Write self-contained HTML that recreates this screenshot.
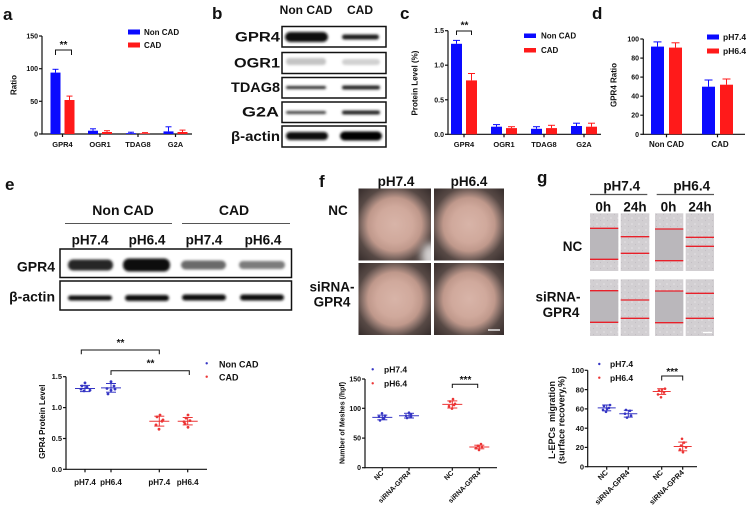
<!DOCTYPE html>
<html><head><meta charset="utf-8"><style>
html,body{margin:0;padding:0;background:#fff;}
svg{display:block;}
text{font-family:"Liberation Sans",Arial,sans-serif;font-weight:bold;fill:#111;}
</style></head><body>
<svg width="746" height="517" viewBox="0 0 746 517" xmlns="http://www.w3.org/2000/svg">
<defs>
<filter id="bl" x="-20%" y="-50%" width="140%" height="200%"><feGaussianBlur stdDeviation="1.4"/></filter>
<filter id="bl2" x="-50%" y="-50%" width="200%" height="200%"><feGaussianBlur stdDeviation="4"/></filter>
<radialGradient id="dish" cx="50%" cy="50%" r="71%">
<stop offset="0%" stop-color="#d8b4a8"/>
<stop offset="35%" stop-color="#d0a99c"/>
<stop offset="52%" stop-color="#bf988b"/>
<stop offset="62%" stop-color="#8f756d"/>
<stop offset="74%" stop-color="#574945"/>
<stop offset="100%" stop-color="#342b2a"/>
</radialGradient>
<clipPath id="cp1"><rect x="358.5" y="188.5" width="72.5" height="72"/></clipPath>
<pattern id="cells" width="7" height="6" patternUnits="userSpaceOnUse">
<rect width="7" height="6" fill="#d2cfd2"/>
<circle cx="2" cy="2" r="0.8" fill="#e6e3e6"/>
<circle cx="5.5" cy="4.5" r="0.6" fill="#c2bec3"/>
</pattern>
</defs>
<rect width="746" height="517" fill="#fff"/>

<!-- ================= Panel a ================= -->
<text x="3" y="20" font-size="17">a</text>
<g stroke="#111" stroke-width="1.2" fill="none">
<line x1="42" y1="36" x2="42" y2="134.5"/>
<line x1="41.5" y1="134" x2="192" y2="134"/>
<line x1="39" y1="36" x2="42" y2="36"/><line x1="39" y1="68.7" x2="42" y2="68.7"/>
<line x1="39" y1="101.3" x2="42" y2="101.3"/><line x1="39" y1="134" x2="42" y2="134"/>
<line x1="62.5" y1="134" x2="62.5" y2="137"/><line x1="100" y1="134" x2="100" y2="137"/>
<line x1="138" y1="134" x2="138" y2="137"/><line x1="175.5" y1="134" x2="175.5" y2="137"/>
</g>
<g font-size="7" text-anchor="end">
<text x="38" y="38.5">150</text><text x="38" y="71.2">100</text><text x="38" y="103.8">50</text><text x="38" y="136.5">0</text>
</g>
<text transform="translate(16.5,85) rotate(-90)" font-size="8" text-anchor="middle">Ratio</text>
<g fill="#0a0aff">
<rect x="50.5" y="72.6" width="10" height="61.4"/><rect x="88" y="130.7" width="10" height="3.3"/>
<rect x="126" y="133.2" width="10" height="0.8"/><rect x="163.5" y="131.4" width="10" height="2.6"/>
</g>
<g fill="#ff1a1a">
<rect x="64.5" y="100" width="10" height="34"/><rect x="102" y="132" width="10" height="2"/>
<rect x="140" y="133.3" width="10" height="0.7"/><rect x="177.5" y="132" width="10" height="2"/>
</g>
<g stroke="#0a0aff" stroke-width="1">
<line x1="55.5" y1="72.6" x2="55.5" y2="69.3"/><line x1="52.5" y1="69.3" x2="58.5" y2="69.3"/>
<line x1="93" y1="130.7" x2="93" y2="128.8"/><line x1="90" y1="128.8" x2="96" y2="128.8"/>
<line x1="131" y1="133.2" x2="131" y2="132.2"/><line x1="128" y1="132.2" x2="134" y2="132.2"/>
<line x1="168.5" y1="131.4" x2="168.5" y2="126.8"/><line x1="165.5" y1="126.8" x2="171.5" y2="126.8"/>
</g>
<g stroke="#ff1a1a" stroke-width="1">
<line x1="69.5" y1="100" x2="69.5" y2="96.1"/><line x1="66.5" y1="96.1" x2="72.5" y2="96.1"/>
<line x1="107" y1="132" x2="107" y2="130.7"/><line x1="104" y1="130.7" x2="110" y2="130.7"/>
<line x1="145" y1="133.3" x2="145" y2="132.6"/><line x1="142" y1="132.6" x2="148" y2="132.6"/>
<line x1="182.5" y1="132" x2="182.5" y2="130.1"/><line x1="179.5" y1="130.1" x2="185.5" y2="130.1"/>
</g>
<path d="M55.5 55 V50 H71.5 V55" stroke="#111" stroke-width="1" fill="none"/>
<text x="63.5" y="48" font-size="10" text-anchor="middle">**</text>
<g font-size="7.5" text-anchor="middle">
<text x="62.5" y="147">GPR4</text><text x="100" y="147">OGR1</text><text x="138" y="147">TDAG8</text><text x="175.5" y="147">G2A</text>
</g>
<rect x="128" y="29.5" width="12" height="5" fill="#0a0aff"/>
<rect x="128" y="42.5" width="12" height="5" fill="#ff1a1a"/>
<text x="144" y="35" font-size="8">Non CAD</text>
<text x="144" y="48" font-size="8">CAD</text>

<!-- ================= Panel b ================= -->
<text x="212" y="19" font-size="17">b</text>
<text x="306" y="14" font-size="12" text-anchor="middle">Non CAD</text>
<text x="360" y="14" font-size="12" text-anchor="middle">CAD</text>
<g font-size="13.5" text-anchor="end">
<text x="280" y="41.5" textLength="45" lengthAdjust="spacingAndGlyphs">GPR4</text>
<text x="280" y="67.5" textLength="46" lengthAdjust="spacingAndGlyphs">OGR1</text>
<text x="280" y="92" textLength="49" lengthAdjust="spacingAndGlyphs">TDAG8</text>
<text x="279" y="116.5" textLength="37" lengthAdjust="spacingAndGlyphs">G2A</text>
<text x="280" y="141" textLength="49" lengthAdjust="spacingAndGlyphs">β-actin</text>
</g>
<g filter="url(#bl)">
<rect x="285" y="32" width="43" height="10" rx="5" fill="#0d0d0d"/>
<rect x="342" y="34.5" width="37" height="5" rx="2.5" fill="#1a1a1a"/>
<rect x="286" y="58" width="40" height="7" rx="3" fill="#c4c4c4"/>
<rect x="342" y="59" width="38" height="6" rx="3" fill="#d0d0d0"/>
<rect x="286" y="86" width="40" height="3" rx="1.5" fill="#2a2a2a"/>
<rect x="342" y="85.5" width="38" height="4" rx="2" fill="#222"/>
<rect x="286" y="111" width="40" height="3" rx="1.5" fill="#444"/>
<rect x="342" y="110.5" width="38" height="4" rx="2" fill="#222"/>
<rect x="286" y="132" width="42" height="8" rx="4" fill="#0a0a0a"/>
<rect x="340" y="131.5" width="42" height="9" rx="4.5" fill="#050505"/>
</g>
<g stroke="#111" stroke-width="1.5" fill="none">
<rect x="282" y="26.5" width="104" height="20.5"/>
<rect x="282" y="52.5" width="104" height="21"/>
<rect x="282" y="77.5" width="104" height="20.5"/>
<rect x="282" y="102" width="104" height="20.5"/>
<rect x="282" y="126" width="104" height="21"/>
</g>

<!-- ================= Panel c ================= -->
<text x="400" y="19" font-size="17">c</text>
<g stroke="#111" stroke-width="1.2" fill="none">
<line x1="448" y1="30.7" x2="448" y2="134.8"/>
<line x1="447.5" y1="134.3" x2="601" y2="134.3"/>
<line x1="445" y1="30.7" x2="448" y2="30.7"/><line x1="445" y1="65.2" x2="448" y2="65.2"/>
<line x1="445" y1="99.8" x2="448" y2="99.8"/><line x1="445" y1="134.3" x2="448" y2="134.3"/>
<line x1="464" y1="134.3" x2="464" y2="137.3"/><line x1="504" y1="134.3" x2="504" y2="137.3"/>
<line x1="544" y1="134.3" x2="544" y2="137.3"/><line x1="584" y1="134.3" x2="584" y2="137.3"/>
</g>
<g font-size="7" text-anchor="end">
<text x="444" y="33.2">1.5</text><text x="444" y="67.7">1.0</text><text x="444" y="102.3">0.5</text><text x="444" y="136.8">0.0</text>
</g>
<text transform="translate(417.5,83) rotate(-90)" font-size="8" text-anchor="middle">Protein Level (%)</text>
<g fill="#0a0aff">
<rect x="451" y="43.8" width="11" height="90.5"/><rect x="491" y="126.7" width="11" height="7.6"/>
<rect x="531" y="128.8" width="11" height="5.5"/><rect x="571" y="126" width="11" height="8.3"/>
</g>
<g fill="#ff1a1a">
<rect x="466" y="80.4" width="11" height="53.9"/><rect x="506" y="128.1" width="11" height="6.2"/>
<rect x="546" y="128.1" width="11" height="6.2"/><rect x="586" y="126.7" width="11" height="7.6"/>
</g>
<g stroke="#0a0aff" stroke-width="1">
<line x1="456.5" y1="43.8" x2="456.5" y2="40.4"/><line x1="453" y1="40.4" x2="460" y2="40.4"/>
<line x1="496.5" y1="126.7" x2="496.5" y2="124.6"/><line x1="493" y1="124.6" x2="500" y2="124.6"/>
<line x1="536.5" y1="128.8" x2="536.5" y2="126.7"/><line x1="533" y1="126.7" x2="540" y2="126.7"/>
<line x1="576.5" y1="126" x2="576.5" y2="123.2"/><line x1="573" y1="123.2" x2="580" y2="123.2"/>
</g>
<g stroke="#ff1a1a" stroke-width="1">
<line x1="471.5" y1="80.4" x2="471.5" y2="73.5"/><line x1="468" y1="73.5" x2="475" y2="73.5"/>
<line x1="511.5" y1="128.1" x2="511.5" y2="126.7"/><line x1="508" y1="126.7" x2="515" y2="126.7"/>
<line x1="551.5" y1="128.1" x2="551.5" y2="125.3"/><line x1="548" y1="125.3" x2="555" y2="125.3"/>
<line x1="591.5" y1="126.7" x2="591.5" y2="123.2"/><line x1="588" y1="123.2" x2="595" y2="123.2"/>
</g>
<path d="M456.5 35 V31 H471.5 V35" stroke="#111" stroke-width="1" fill="none"/>
<text x="464.5" y="28.5" font-size="10" text-anchor="middle">**</text>
<g font-size="7.5" text-anchor="middle">
<text x="464" y="147">GPR4</text><text x="504" y="147">OGR1</text><text x="544" y="147">TDAG8</text><text x="584" y="147">G2A</text>
</g>
<rect x="524" y="33.5" width="12" height="4.5" fill="#0a0aff"/>
<rect x="524" y="48" width="12" height="4.5" fill="#ff1a1a"/>
<text x="541" y="38.5" font-size="8">Non CAD</text>
<text x="541" y="53" font-size="8">CAD</text>

<!-- ================= Panel d ================= -->
<text x="592" y="19" font-size="17">d</text>
<g stroke="#111" stroke-width="1.2" fill="none">
<line x1="643.3" y1="39" x2="643.3" y2="134.8"/>
<line x1="642.8" y1="134.3" x2="745" y2="134.3"/>
<line x1="640.3" y1="39" x2="643.3" y2="39"/><line x1="640.3" y1="58.1" x2="643.3" y2="58.1"/>
<line x1="640.3" y1="77.1" x2="643.3" y2="77.1"/><line x1="640.3" y1="96.2" x2="643.3" y2="96.2"/>
<line x1="640.3" y1="115.2" x2="643.3" y2="115.2"/><line x1="640.3" y1="134.3" x2="643.3" y2="134.3"/>
<line x1="666.5" y1="134.3" x2="666.5" y2="137.3"/><line x1="717.5" y1="134.3" x2="717.5" y2="137.3"/>
</g>
<g font-size="7" text-anchor="end">
<text x="639" y="41.5">100</text><text x="639" y="60.6">80</text><text x="639" y="79.6">60</text>
<text x="639" y="98.7">40</text><text x="639" y="117.7">20</text><text x="639" y="136.8">0</text>
</g>
<text transform="translate(616.5,85) rotate(-90)" font-size="8" text-anchor="middle">GPR4 Ratio</text>
<rect x="651" y="46.6" width="13" height="87.7" fill="#0a0aff"/>
<rect x="669" y="47.6" width="13" height="86.7" fill="#ff1a1a"/>
<rect x="702" y="86.7" width="13" height="47.6" fill="#0a0aff"/>
<rect x="720" y="84.7" width="13" height="49.6" fill="#ff1a1a"/>
<g stroke="#0a0aff" stroke-width="1">
<line x1="657.5" y1="46.6" x2="657.5" y2="41.9"/><line x1="653.5" y1="41.9" x2="661.5" y2="41.9"/>
<line x1="708.5" y1="86.7" x2="708.5" y2="80"/><line x1="704.5" y1="80" x2="712.5" y2="80"/>
</g>
<g stroke="#ff1a1a" stroke-width="1">
<line x1="675.5" y1="47.6" x2="675.5" y2="42.8"/><line x1="671.5" y1="42.8" x2="679.5" y2="42.8"/>
<line x1="726.5" y1="84.7" x2="726.5" y2="79"/><line x1="722.5" y1="79" x2="730.5" y2="79"/>
</g>
<g font-size="8" text-anchor="middle">
<text x="666.5" y="147">Non CAD</text><text x="720" y="147">CAD</text>
</g>
<rect x="707" y="34.5" width="12" height="5" fill="#0a0aff"/>
<rect x="707" y="48.5" width="12" height="5" fill="#ff1a1a"/>
<text x="723" y="40" font-size="8.5">pH7.4</text>
<text x="723" y="54" font-size="8.5">pH6.4</text>

<!-- ================= Panel e (blot) ================= -->
<text x="5" y="190" font-size="17">e</text>
<text x="123" y="215" font-size="14" text-anchor="middle">Non CAD</text>
<text x="234" y="215" font-size="14" text-anchor="middle">CAD</text>
<line x1="65" y1="223.5" x2="172" y2="223.5" stroke="#555" stroke-width="1"/>
<line x1="182" y1="223.5" x2="290" y2="223.5" stroke="#555" stroke-width="1"/>
<g font-size="13.5" text-anchor="middle">
<text x="90" y="244.5">pH7.4</text><text x="147" y="244.5">pH6.4</text>
<text x="204" y="244.5">pH7.4</text><text x="263" y="244.5">pH6.4</text>
</g>
<g font-size="14" text-anchor="end">
<text x="55" y="271.5">GPR4</text>
<text x="55" y="301.5">β-actin</text>
</g>
<g filter="url(#bl)">
<rect x="68" y="259.5" width="45" height="11" rx="5" fill="#262626"/>
<rect x="123" y="258.5" width="47" height="13" rx="6" fill="#0e0e0e"/>
<rect x="181" y="260.5" width="45" height="9" rx="4.5" fill="#6a6a6a"/>
<rect x="239" y="261" width="46" height="8" rx="4" fill="#7c7c7c"/>
<rect x="68" y="295.5" width="44" height="5" rx="2.5" fill="#111"/>
<rect x="125" y="295" width="44" height="6" rx="3" fill="#111"/>
<rect x="182" y="294.5" width="44" height="6" rx="3" fill="#111"/>
<rect x="240" y="294.5" width="44" height="6" rx="3" fill="#111"/>
</g>
<g stroke="#111" stroke-width="1.5" fill="none">
<rect x="60" y="249" width="231.5" height="28.5"/>
<rect x="60" y="281" width="231.5" height="29"/>
</g>

<!-- ================= Panel e (dot plot) ================= -->
<g stroke="#111" stroke-width="1.2" fill="none">
<line x1="66" y1="376.7" x2="66" y2="469.8"/>
<line x1="65.5" y1="469.3" x2="207" y2="469.3"/>
<line x1="63" y1="376.7" x2="66" y2="376.7"/><line x1="63" y1="407.6" x2="66" y2="407.6"/>
<line x1="63" y1="438.5" x2="66" y2="438.5"/><line x1="63" y1="469.3" x2="66" y2="469.3"/>
<line x1="85" y1="469.3" x2="85" y2="472.3"/><line x1="111" y1="469.3" x2="111" y2="472.3"/>
<line x1="159.3" y1="469.3" x2="159.3" y2="472.3"/><line x1="187.7" y1="469.3" x2="187.7" y2="472.3"/>
</g>
<g font-size="7.5" text-anchor="end">
<text x="62" y="379.2">1.5</text><text x="62" y="410.1">1.0</text><text x="62" y="441">0.5</text><text x="62" y="471.8">0.0</text>
</g>
<text transform="translate(45,421.7) rotate(-90)" font-size="8" text-anchor="middle">GPR4 Protein Level</text>
<g font-size="8" text-anchor="middle">
<text x="85" y="485">pH7.4</text><text x="111" y="485">pH6.4</text><text x="159.3" y="485">pH7.4</text><text x="187.7" y="485">pH6.4</text>
</g>
<g stroke="#3535c4" stroke-width="1" fill="none">
<line x1="75" y1="388.5" x2="95" y2="388.5"/><line x1="85" y1="385.4" x2="85" y2="391.6"/>
<line x1="80" y1="385.4" x2="90" y2="385.4"/><line x1="80" y1="391.6" x2="90" y2="391.6"/>
<line x1="101" y1="387.9" x2="121" y2="387.9"/><line x1="111" y1="383.5" x2="111" y2="392.2"/>
<line x1="106" y1="383.5" x2="116" y2="383.5"/><line x1="106" y1="392.2" x2="116" y2="392.2"/>
</g>
<g fill="#3535c4">
<circle cx="81" cy="389.1" r="1.4"/><circle cx="84" cy="390.9" r="1.4"/><circle cx="87" cy="387.2" r="1.4"/>
<circle cx="85" cy="382.9" r="1.4"/><circle cx="90" cy="390.3" r="1.4"/><circle cx="82" cy="386" r="1.4"/>
<circle cx="108" cy="394" r="1.4"/><circle cx="111" cy="390.3" r="1.4"/><circle cx="114" cy="386" r="1.4"/>
<circle cx="111" cy="381.7" r="1.4"/><circle cx="107" cy="388.5" r="1.4"/><circle cx="115" cy="389.1" r="1.4"/>
</g>
<g stroke="#ec3535" stroke-width="1" fill="none">
<line x1="149.3" y1="421.2" x2="169.3" y2="421.2"/><line x1="159.3" y1="416.2" x2="159.3" y2="426.1"/>
<line x1="154.3" y1="416.2" x2="164.3" y2="416.2"/><line x1="154.3" y1="426.1" x2="164.3" y2="426.1"/>
<line x1="177.7" y1="421.2" x2="197.7" y2="421.2"/><line x1="187.7" y1="417.5" x2="187.7" y2="424.9"/>
<line x1="182.7" y1="417.5" x2="192.7" y2="417.5"/><line x1="182.7" y1="424.9" x2="192.7" y2="424.9"/>
</g>
<g fill="#ec3535">
<circle cx="159" cy="429.2" r="1.4"/><circle cx="156" cy="424.9" r="1.4"/><circle cx="162" cy="421.2" r="1.4"/>
<circle cx="157" cy="416.9" r="1.4"/><circle cx="160" cy="415" r="1.4"/><circle cx="163" cy="419.9" r="1.4"/>
<circle cx="188" cy="427.3" r="1.4"/><circle cx="185" cy="423.6" r="1.4"/><circle cx="190" cy="420.6" r="1.4"/>
<circle cx="186" cy="418.1" r="1.4"/><circle cx="188" cy="415" r="1.4"/><circle cx="184" cy="421.8" r="1.4"/>
</g>
<path d="M81.3 354.3 V350 H159.3 V354.3" stroke="#111" stroke-width="1" fill="none"/>
<text x="120.5" y="346" font-size="10" text-anchor="middle">**</text>
<path d="M111 375 V370.7 H189.3 V375" stroke="#111" stroke-width="1" fill="none"/>
<text x="150.5" y="366.5" font-size="10" text-anchor="middle">**</text>
<circle cx="206.7" cy="363.3" r="1.2" fill="#3535c4"/>
<circle cx="206.7" cy="376.7" r="1.2" fill="#ec3535"/>
<text x="219" y="367.5" font-size="9">Non CAD</text>
<text x="219" y="380.5" font-size="9">CAD</text>

<!-- ================= Panel f ================= -->
<text x="319" y="187" font-size="17">f</text>
<text x="396" y="186" font-size="13.5" text-anchor="middle">pH7.4</text>
<text x="469" y="186" font-size="13.5" text-anchor="middle">pH6.4</text>
<text x="338" y="215" font-size="13.5" text-anchor="middle">NC</text>
<text x="332" y="291.5" font-size="13.5" text-anchor="middle">siRNA-</text>
<text x="332" y="306.5" font-size="13.5" text-anchor="middle">GPR4</text>
<rect x="358.5" y="188.5" width="72.5" height="72" fill="url(#dish)"/>
<rect x="434" y="188.5" width="70" height="72" fill="url(#dish)"/>
<rect x="358.5" y="263" width="72.5" height="72" fill="url(#dish)"/>
<rect x="434" y="263" width="70" height="72" fill="url(#dish)"/>
<g clip-path="url(#cp1)">
<ellipse cx="430" cy="256" rx="9" ry="13" fill="#e4e2e2" filter="url(#bl2)" opacity="0.9"/>
</g>
<line x1="488" y1="330" x2="500" y2="330" stroke="#fff" stroke-width="1.3"/>
<!-- f chart -->
<g stroke="#111" stroke-width="1.2" fill="none">
<line x1="365" y1="379" x2="365" y2="468.2"/>
<line x1="364.5" y1="467.7" x2="497" y2="467.7"/>
<line x1="362" y1="379" x2="365" y2="379"/><line x1="362" y1="408.3" x2="365" y2="408.3"/>
<line x1="362" y1="438.1" x2="365" y2="438.1"/><line x1="362" y1="467.7" x2="365" y2="467.7"/>
<line x1="382.3" y1="467.7" x2="382.3" y2="470.7"/><line x1="409" y1="467.7" x2="409" y2="470.7"/>
<line x1="452.3" y1="467.7" x2="452.3" y2="470.7"/><line x1="479.3" y1="467.7" x2="479.3" y2="470.7"/>
</g>
<g font-size="7" text-anchor="end">
<text x="361" y="381.5">150</text><text x="361" y="410.8">100</text><text x="361" y="440.6">50</text><text x="361" y="470.2">0</text>
</g>
<text transform="translate(344.5,423) rotate(-90)" font-size="7" text-anchor="middle">Number of Meshes (/hpf)</text>
<g font-size="7" text-anchor="end">
<text transform="translate(384,473.5) rotate(-45)">NC</text>
<text transform="translate(411,473.5) rotate(-45)">siRNA-GPR4</text>
<text transform="translate(454,473.5) rotate(-45)">NC</text>
<text transform="translate(481,473.5) rotate(-45)">siRNA-GPR4</text>
</g>
<g stroke="#3535c4" stroke-width="1" fill="none">
<line x1="372.3" y1="417.4" x2="392.3" y2="417.4"/><line x1="382.3" y1="415.1" x2="382.3" y2="419.8"/>
<line x1="377.3" y1="415.1" x2="387.3" y2="415.1"/><line x1="377.3" y1="419.8" x2="387.3" y2="419.8"/>
<line x1="399" y1="415.7" x2="419" y2="415.7"/><line x1="409" y1="413.3" x2="409" y2="418"/>
<line x1="404" y1="413.3" x2="414" y2="413.3"/><line x1="404" y1="418" x2="414" y2="418"/>
</g>
<g fill="#3535c4">
<circle cx="380" cy="420.4" r="1.3"/><circle cx="384" cy="418.6" r="1.3"/><circle cx="379" cy="416.8" r="1.3"/>
<circle cx="385" cy="415.7" r="1.3"/><circle cx="382" cy="413.3" r="1.3"/><circle cx="383" cy="418" r="1.3"/>
<circle cx="407" cy="418" r="1.3"/><circle cx="411" cy="416.8" r="1.3"/><circle cx="406" cy="415.7" r="1.3"/>
<circle cx="411" cy="414.5" r="1.3"/><circle cx="409" cy="412.7" r="1.3"/>
</g>
<g stroke="#ec3535" stroke-width="1" fill="none">
<line x1="442.3" y1="404.4" x2="462.3" y2="404.4"/><line x1="452.3" y1="400.9" x2="452.3" y2="408"/>
<line x1="447.3" y1="400.9" x2="457.3" y2="400.9"/><line x1="447.3" y1="408" x2="457.3" y2="408"/>
<line x1="469.3" y1="447" x2="489.3" y2="447"/><line x1="479.3" y1="445.2" x2="479.3" y2="448.8"/>
<line x1="474.3" y1="445.2" x2="484.3" y2="445.2"/><line x1="474.3" y1="448.8" x2="484.3" y2="448.8"/>
</g>
<g fill="#ec3535">
<circle cx="452" cy="408.6" r="1.3"/><circle cx="449" cy="406.2" r="1.3"/><circle cx="455" cy="403.8" r="1.3"/>
<circle cx="450" cy="401.5" r="1.3"/><circle cx="453" cy="399.1" r="1.3"/><circle cx="454" cy="405" r="1.3"/>
<circle cx="479" cy="450" r="1.3"/><circle cx="476" cy="448.2" r="1.3"/><circle cx="482" cy="447" r="1.3"/>
<circle cx="478" cy="445.8" r="1.3"/><circle cx="481" cy="444" r="1.3"/>
</g>
<path d="M452.3 388 V384.3 H477.7 V388" stroke="#111" stroke-width="1" fill="none"/>
<text x="465.5" y="383" font-size="10" text-anchor="middle">***</text>
<circle cx="372.7" cy="369.3" r="1.2" fill="#3535c4"/>
<circle cx="372.7" cy="383.3" r="1.2" fill="#ec3535"/>
<text x="384" y="372.5" font-size="8.5">pH7.4</text>
<text x="384" y="386.5" font-size="8.5">pH6.4</text>

<!-- ================= Panel g ================= -->
<text x="537" y="183" font-size="17">g</text>
<text x="621.7" y="190.5" font-size="13.5" text-anchor="middle">pH7.4</text>
<text x="691.7" y="190.5" font-size="13.5" text-anchor="middle">pH6.4</text>
<line x1="590" y1="194.5" x2="647.3" y2="194.5" stroke="#555" stroke-width="1.2"/>
<line x1="656.7" y1="194.5" x2="714" y2="194.5" stroke="#555" stroke-width="1.2"/>
<g font-size="13.5" text-anchor="middle">
<text x="603.3" y="211.5">0h</text><text x="635" y="211.5">24h</text>
<text x="668.5" y="211.5">0h</text><text x="700" y="211.5">24h</text>
</g>
<text x="572.5" y="251" font-size="13.5" text-anchor="middle">NC</text>
<text x="558" y="301.5" font-size="13.5" text-anchor="middle">siRNA-</text>
<text x="561" y="317" font-size="13.5" text-anchor="middle">GPR4</text>
<!-- images -->
<rect x="590" y="213.3" width="28.3" height="57.7" fill="url(#cells)"/>
<rect x="620.7" y="213.3" width="28.6" height="57.7" fill="url(#cells)"/>
<rect x="655" y="213.3" width="28.3" height="57.7" fill="url(#cells)"/>
<rect x="685.7" y="213.3" width="28.3" height="57.7" fill="url(#cells)"/>
<rect x="590" y="279.3" width="28.3" height="56.7" fill="url(#cells)"/>
<rect x="620.7" y="279.3" width="28.6" height="56.7" fill="url(#cells)"/>
<rect x="655" y="279.3" width="28.3" height="56.7" fill="url(#cells)"/>
<rect x="685.7" y="279.3" width="28.3" height="56.7" fill="url(#cells)"/>
<g fill="#bab7bb">
<rect x="590" y="228.3" width="28.3" height="31"/>
<rect x="655" y="229" width="28.3" height="31.7"/>
<rect x="590" y="290.7" width="28.3" height="31.6"/>
<rect x="655" y="291" width="28.3" height="31.7"/>
</g>
<g stroke="#e8202a" stroke-width="1.3">
<line x1="590" y1="228.3" x2="618.3" y2="228.3"/><line x1="590" y1="259.3" x2="618.3" y2="259.3"/>
<line x1="620.7" y1="236.7" x2="649.3" y2="236.7"/><line x1="620.7" y1="253.3" x2="649.3" y2="253.3"/>
<line x1="655" y1="229" x2="683.3" y2="229"/><line x1="655" y1="260.7" x2="683.3" y2="260.7"/>
<line x1="685.7" y1="237.3" x2="714" y2="237.3"/><line x1="685.7" y1="246.3" x2="714" y2="246.3"/>
<line x1="590" y1="290.7" x2="618.3" y2="290.7"/><line x1="590" y1="322.3" x2="618.3" y2="322.3"/>
<line x1="620.7" y1="300" x2="649.3" y2="300"/><line x1="620.7" y1="318.3" x2="649.3" y2="318.3"/>
<line x1="655" y1="291" x2="683.3" y2="291"/><line x1="655" y1="322.7" x2="683.3" y2="322.7"/>
<line x1="685.7" y1="293.3" x2="714" y2="293.3"/><line x1="685.7" y1="318.3" x2="714" y2="318.3"/>
</g>
<line x1="703" y1="332.5" x2="712" y2="332.5" stroke="#fff" stroke-width="1.3"/>
<!-- g chart -->
<g stroke="#111" stroke-width="1.2" fill="none">
<line x1="587.7" y1="370.3" x2="587.7" y2="467.2"/>
<line x1="587.2" y1="466.7" x2="697" y2="466.7"/>
<line x1="584.7" y1="370.3" x2="587.7" y2="370.3"/><line x1="584.7" y1="389.6" x2="587.7" y2="389.6"/>
<line x1="584.7" y1="408.9" x2="587.7" y2="408.9"/><line x1="584.7" y1="428.2" x2="587.7" y2="428.2"/>
<line x1="584.7" y1="447.4" x2="587.7" y2="447.4"/><line x1="584.7" y1="466.7" x2="587.7" y2="466.7"/>
<line x1="606.7" y1="466.7" x2="606.7" y2="469.7"/><line x1="628.3" y1="466.7" x2="628.3" y2="469.7"/>
<line x1="661.7" y1="466.7" x2="661.7" y2="469.7"/><line x1="682.7" y1="466.7" x2="682.7" y2="469.7"/>
</g>
<g font-size="7.5" text-anchor="end">
<text x="584" y="373">100</text><text x="584" y="392.3">80</text><text x="584" y="411.6">60</text>
<text x="584" y="430.9">40</text><text x="584" y="450.1">20</text><text x="584" y="469.4">0</text>
</g>
<text transform="translate(555,420) rotate(-90)" font-size="9" text-anchor="middle" xml:space="preserve">L-EPCs  migration</text>
<text transform="translate(564.5,420) rotate(-90)" font-size="9" text-anchor="middle">(surface recovery,%)</text>
<g font-size="7.5" text-anchor="end">
<text transform="translate(608.5,473) rotate(-45)">NC</text>
<text transform="translate(630,473) rotate(-45)">siRNA-GPR4</text>
<text transform="translate(663.5,473) rotate(-45)">NC</text>
<text transform="translate(684.5,473) rotate(-45)">siRNA-GPR4</text>
</g>
<g stroke="#3535c4" stroke-width="1" fill="none">
<line x1="597.7" y1="407.9" x2="615.7" y2="407.9"/><line x1="606.7" y1="405" x2="606.7" y2="410.8"/>
<line x1="602.2" y1="405" x2="611.2" y2="405"/><line x1="602.2" y1="410.8" x2="611.2" y2="410.8"/>
<line x1="619.3" y1="413.7" x2="637.3" y2="413.7"/><line x1="628.3" y1="410.3" x2="628.3" y2="417.1"/>
<line x1="623.8" y1="410.3" x2="632.8" y2="410.3"/><line x1="623.8" y1="417.1" x2="632.8" y2="417.1"/>
</g>
<g fill="#3535c4">
<circle cx="606" cy="411.8" r="1.3"/><circle cx="603" cy="409.9" r="1.3"/><circle cx="609" cy="407.9" r="1.3"/>
<circle cx="604" cy="406" r="1.3"/><circle cx="610" cy="405" r="1.3"/><circle cx="607" cy="408.9" r="1.3"/>
<circle cx="627" cy="417.6" r="1.3"/><circle cx="631" cy="415.6" r="1.3"/><circle cx="625" cy="413.7" r="1.3"/>
<circle cx="630" cy="410.8" r="1.3"/><circle cx="626" cy="409.9" r="1.3"/>
</g>
<g stroke="#ec3535" stroke-width="1" fill="none">
<line x1="652.7" y1="391.5" x2="670.7" y2="391.5"/><line x1="661.7" y1="388.7" x2="661.7" y2="394.4"/>
<line x1="657.2" y1="388.7" x2="666.2" y2="388.7"/><line x1="657.2" y1="394.4" x2="666.2" y2="394.4"/>
<line x1="673.7" y1="446.5" x2="691.7" y2="446.5"/><line x1="682.7" y1="442.1" x2="682.7" y2="450.8"/>
<line x1="678.2" y1="442.1" x2="687.2" y2="442.1"/><line x1="678.2" y1="450.8" x2="687.2" y2="450.8"/>
</g>
<g fill="#ec3535">
<circle cx="661" cy="397.3" r="1.3"/><circle cx="658" cy="394.4" r="1.3"/><circle cx="664" cy="392.5" r="1.3"/>
<circle cx="659" cy="390.6" r="1.3"/><circle cx="665" cy="388.7" r="1.3"/><circle cx="662" cy="389.6" r="1.3"/>
<circle cx="683" cy="452.2" r="1.3"/><circle cx="680" cy="449.4" r="1.3"/><circle cx="686" cy="447.4" r="1.3"/>
<circle cx="681" cy="445.5" r="1.3"/><circle cx="684" cy="442.6" r="1.3"/><circle cx="682" cy="438.8" r="1.3"/>
</g>
<path d="M661.7 380.5 V376 H682.7 V380.5" stroke="#111" stroke-width="1" fill="none"/>
<text x="672.2" y="375" font-size="10" text-anchor="middle">***</text>
<circle cx="599.3" cy="364" r="1.2" fill="#3535c4"/>
<circle cx="599.3" cy="377.7" r="1.2" fill="#ec3535"/>
<text x="610" y="367" font-size="8.5">pH7.4</text>
<text x="610" y="381" font-size="8.5">pH6.4</text>
</svg>
</body></html>
